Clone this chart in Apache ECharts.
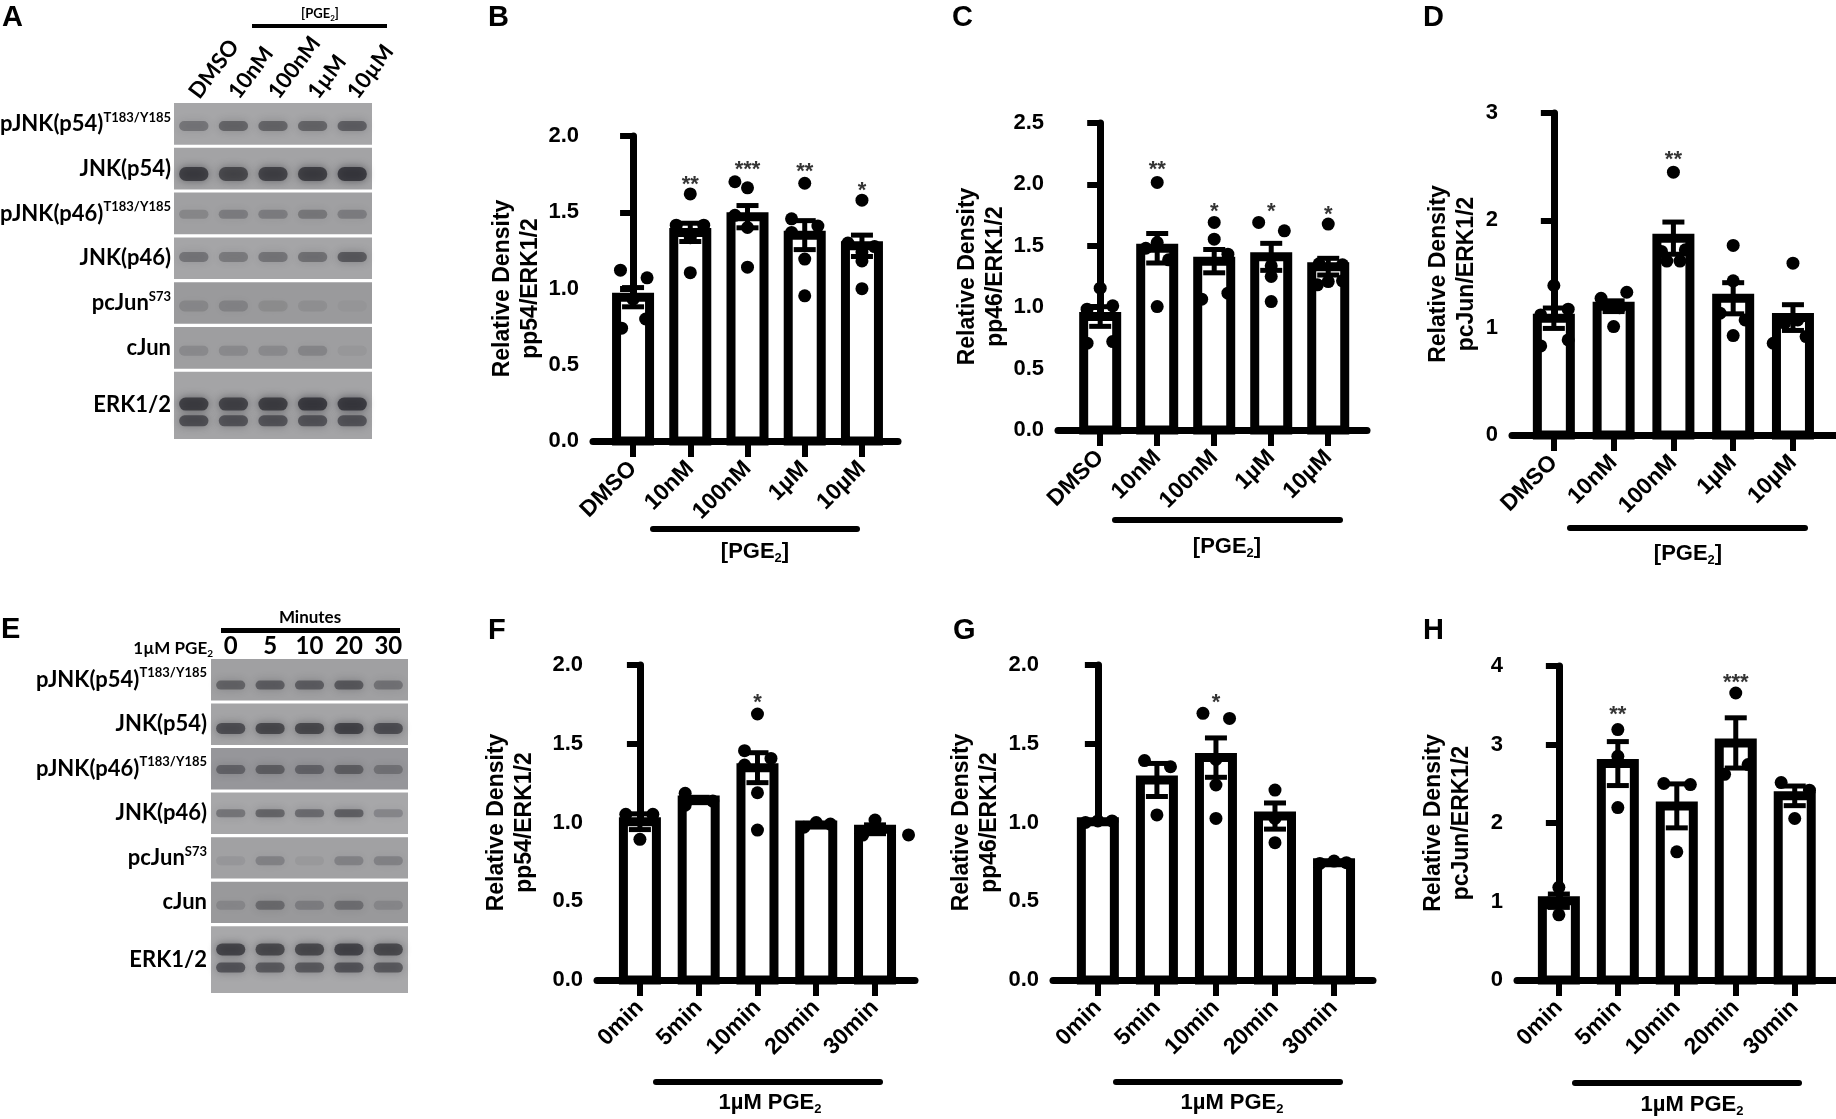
<!DOCTYPE html>
<html>
<head>
<meta charset="utf-8">
<script src="https://cdn.jsdelivr.net/npm/echarts@6/dist/echarts.min.js"></script>
<style>
  html, body { margin: 0; padding: 0; background: #fff; }
  #fig { width: 1836px; height: 1119px; }
</style>
</head>
<body>
<div id="fig"></div>
<script>
const doseCats = ['DMSO', '10nM', '100nM', '1µM', '10µM'];
const timeCats = ['0min', '5min', '10min', '20min', '30min'];

// B: pp54 / ERK1/2 vs PGE2 dose  (points are [x offset within group, value])
const pp54DoseMean = [0.943, 1.368, 1.471, 1.35, 1.28];
const pp54DoseSem = [0.063, 0.06, 0.073, 0.095, 0.07];
const pp54DosePoints = [
  [[-0.22, 1.12], [0.245, 1.07], [0, 0.93], [-0.2, 0.74], [0.22, 0.80]],
  [[0, 1.62], [-0.245, 1.415], [0.235, 1.415], [0, 1.333], [0, 1.104]],
  [[-0.22, 1.70], [0, 1.66], [-0.22, 1.48], [0, 1.40], [0, 1.14]],
  [[0, 1.69], [-0.23, 1.457], [0.23, 1.41], [-0.23, 1.368], [0, 1.193], [0, 0.952]],
  [[0, 1.579], [-0.245, 1.298], [0.22, 1.275], [0, 1.24], [0, 1.181], [0, 0.999]]
];
const pp54DoseStars = ['', '**', '***', '**', '*'];
const pp54DoseStarY = [null, 1.71, 1.81, 1.80, 1.67];

// C: pp46 / ERK1/2 vs dose
const pp46DoseMean = [0.924, 1.48, 1.375, 1.41, 1.33];
const pp46DoseSem = [0.08, 0.12, 0.095, 0.11, 0.068];
const pp46DosePoints = [
  [[0, 1.155], [-0.23, 0.984], [0.22, 1.011], [-0.23, 0.707], [0.22, 0.72]],
  [[0, 2.016], [0, 1.527], [-0.2, 1.48], [0.2, 1.386], [0, 1.005]],
  [[0, 1.69], [0, 1.554], [0.24, 1.432], [-0.22, 1.065], [0.24, 1.114]],
  [[-0.22, 1.69], [0.23, 1.622], [0, 1.337], [0, 1.25], [0, 1.046]],
  [[0, 1.677], [-0.16, 1.353], [0.25, 1.345], [-0.19, 1.182], [0, 1.209], [0.25, 1.215]]
];
const pp46DoseStars = ['', '**', '*', '*', '*'];
const pp46DoseStarY = [null, 2.16, 1.82, 1.82, 1.79];

// D: pcJun / ERK1/2 vs dose
const pcJunDoseMean = [1.088, 1.2, 1.834, 1.274, 1.094];
const pcJunDoseSem = [0.095, 0.05, 0.15, 0.145, 0.12];
const pcJunDosePoints = [
  [[0, 1.393], [0.24, 1.172], [-0.22, 1.119], [-0.22, 0.83], [0.24, 0.886]],
  [[0.22, 1.33], [-0.21, 1.274], [0.1, 1.186], [0, 1.01]],
  [[0, 2.449], [-0.2, 1.71], [0.2, 1.725], [-0.11, 1.62], [0.11, 1.62]],
  [[0, 1.766], [0, 1.436], [-0.22, 1.135], [0.2, 1.072], [0, 0.926]],
  [[0, 1.601], [0.08, 1.072], [-0.14, 1.041], [-0.33, 0.855], [0.22, 0.917]]
];
const pcJunDoseStars = ['', '', '**', '', ''];
const pcJunDoseStarY = [null, null, 2.61, null, null];

// F: pp54 / ERK1/2 vs time
const pp54TimeMean = [1.005, 1.143, 1.348, 0.984, 0.957];
const pp54TimeSem = [0.05, 0.017, 0.095, 0.01, 0.028];
const pp54TimePoints = [
  [[-0.24, 1.052], [0.22, 1.052], [0, 0.893]],
  [[-0.23, 1.185], [0.24, 1.136], [-0.23, 1.11]],
  [[0, 1.689], [-0.22, 1.456], [0.23, 1.407], [-0.22, 1.365], [0, 1.189], [0, 0.952]],
  [[-0.21, 0.97], [0, 1.0], [0.24, 0.99]],
  [[0, 1.016], [0.57, 0.921], [-0.21, 0.92]]
];
const pp54TimeStars = ['', '', '*', '', ''];
const pp54TimeStarY = [null, null, 1.79, null, null];

// G: pp46 / ERK1/2 vs time
const pp46TimeMean = [1.005, 1.27, 1.412, 1.041, 0.745];
const pp46TimeSem = [0.005, 0.105, 0.125, 0.083, 0.005];
const pp46TimePoints = [
  [[-0.21, 1.0], [0, 1.01], [0.24, 1.01]],
  [[-0.21, 1.393], [0.23, 1.354], [0, 1.048]],
  [[-0.22, 1.693], [0.23, 1.661], [0, 1.40], [0, 1.238], [0, 1.026]],
  [[0, 1.206], [0, 1.026], [0, 0.872]],
  [[-0.24, 0.74], [0, 0.755], [0.21, 0.745]]
];
const pp46TimeStars = ['', '', '*', '', ''];
const pp46TimeStarY = [null, null, 1.79, null, null];

// H: pcJun / ERK1/2 vs time
const pcJunTimeMean = [1.01, 2.757, 2.218, 3.02, 2.346];
const pcJunTimeSem = [0.085, 0.28, 0.28, 0.32, 0.125];
const pcJunTimePoints = [
  [[0, 1.18], [-0.17, 0.98], [0, 0.83]],
  [[0, 3.19], [0, 2.85], [0, 2.197]],
  [[-0.22, 2.503], [0.23, 2.49], [0, 1.633]],
  [[0, 3.656], [0.21, 2.744], [-0.19, 2.62]],
  [[-0.23, 2.515], [0.25, 2.418], [0, 2.057]]
];
const pcJunTimeStars = ['', '**', '', '***', ''];
const pcJunTimeStarY = [null, 3.44, null, 3.85, null];

// Western blots (band darkness 0..1 per lane)
const blotRowNames = ['pJNK(p54)', 'JNK(p54)', 'pJNK(p46)', 'JNK(p46)', 'pcJun', 'cJun', 'ERK1/2'];
const blotRowSup = ['T183/Y185', '', 'T183/Y185', '', 'S73', '', ''];
const blotALanes = ['DMSO', '10nM', '100nM', '1µM', '10µM'];
const blotABands = [
  [0.45, 0.6, 0.6, 0.6, 0.65],
  [0.95, 0.85, 0.9, 0.95, 1.0],
  [0.25, 0.35, 0.35, 0.4, 0.35],
  [0.45, 0.4, 0.45, 0.5, 0.7],
  [0.2, 0.25, 0.15, 0.12, 0.05],
  [0.2, 0.2, 0.2, 0.25, 0.08],
  [0.95, 0.9, 0.95, 1.0, 1.0]
];
const blotAErkLower = [0.8, 0.75, 0.75, 0.75, 0.75];
const blotELanes = ['0', '5', '10', '20', '30'];
const blotEBands = [
  [0.6, 0.65, 0.65, 0.7, 0.45],
  [0.8, 0.85, 0.85, 0.9, 0.8],
  [0.55, 0.6, 0.55, 0.6, 0.4],
  [0.45, 0.6, 0.55, 0.65, 0.3],
  [0.1, 0.3, 0.08, 0.3, 0.3],
  [0.2, 0.5, 0.3, 0.45, 0.2],
  [0.9, 0.85, 0.85, 0.9, 0.85]
];
const blotEErkLower = [0.75, 0.7, 0.7, 0.75, 0.7];

const ARIAL = 'Liberation Sans, Arial, sans-serif';
const BLOT_FONT = 'Lato, Open Sans, sans-serif';

const doseTag = '{r|[PGE}{s|2}{r|]}';
const timeTag = '{r|1µM PGE}{s|2}';

const panels = [
  {
    cats: doseCats, mean: pp54DoseMean, sem: pp54DoseSem, points: pp54DosePoints,
    stars: pp54DoseStars, starY: pp54DoseStarY, yMax: 2, yStep: 0.5, digits: 1,
    yName: 'Relative Density\npp54/ERK1/2', tag: doseTag,
    letter: 'B', lx: 488, ly: 18, grid: { left: 593, top: 136, width: 305, height: 305 },
    xMin: -0.70, xMax: 4.63, nameGap: 47, bar: [650, 860, 529], tagPos: [755, 552]
  },
  {
    cats: doseCats, mean: pp46DoseMean, sem: pp46DoseSem, points: pp46DosePoints,
    stars: pp46DoseStars, starY: pp46DoseStarY, yMax: 2.5, yStep: 0.5, digits: 1,
    yName: 'Relative Density\npp46/ERK1/2', tag: doseTag,
    letter: 'C', lx: 952, ly: 18, grid: { left: 1058, top: 123, width: 309, height: 307 },
    xMin: -0.74, xMax: 4.68, nameGap: 46, bar: [1112, 1343, 520], tagPos: [1227, 547]
  },
  {
    cats: doseCats, mean: pcJunDoseMean, sem: pcJunDoseSem, points: pcJunDosePoints,
    stars: pcJunDoseStars, starY: pcJunDoseStarY, yMax: 3, yStep: 1, digits: 0,
    yName: 'Relative Density\npcJun/ERK1/2', tag: doseTag,
    letter: 'D', lx: 1423, ly: 18, grid: { left: 1512, top: 113, width: 324, height: 322 },
    xMin: -0.70, xMax: 4.72, nameGap: 31, bar: [1567, 1808, 528], tagPos: [1688, 554]
  },
  {
    cats: timeCats, mean: pp54TimeMean, sem: pp54TimeSem, points: pp54TimePoints,
    stars: pp54TimeStars, starY: pp54TimeStarY, yMax: 2, yStep: 0.5, digits: 1,
    yName: 'Relative Density\npp54/ERK1/2', tag: timeTag,
    letter: 'F', lx: 488, ly: 631, grid: { left: 597, top: 665, width: 318, height: 315 },
    xMin: -0.73, xMax: 4.68, nameGap: 58, bar: [653, 883, 1082], tagPos: [770, 1103]
  },
  {
    cats: timeCats, mean: pp46TimeMean, sem: pp46TimeSem, points: pp46TimePoints,
    stars: pp46TimeStars, starY: pp46TimeStarY, yMax: 2, yStep: 0.5, digits: 1,
    yName: 'Relative Density\npp46/ERK1/2', tag: timeTag,
    letter: 'G', lx: 953, ly: 631, grid: { left: 1053, top: 665, width: 320, height: 315 },
    xMin: -0.76, xMax: 4.66, nameGap: 49, bar: [1113, 1343, 1082], tagPos: [1232, 1103]
  },
  {
    cats: timeCats, mean: pcJunTimeMean, sem: pcJunTimeSem, points: pcJunTimePoints,
    stars: pcJunTimeStars, starY: pcJunTimeStarY, yMax: 4, yStep: 1, digits: 0,
    yName: 'Relative Density\npcJun/ERK1/2', tag: timeTag,
    letter: 'H', lx: 1423, ly: 631, grid: { left: 1517, top: 666, width: 319, height: 314 },
    xMin: -0.71, xMax: 4.7, nameGap: 41, bar: [1572, 1802, 1083], tagPos: [1692, 1105]
  }
];

const blots = [
  {
    lanes: blotALanes, bands: blotABands, erkLower: blotAErkLower,
    grid: { left: 174, top: 103, width: 198, height: 336 },
    bandPos: [0.55, 0.63, 0.52, 0.47, 0.57, 0.57, 0.48], lowerPos: 0.73,
    bandH: [10, 14, 9, 10, 11, 10, 13], lowerH: 11,
    shade: ['#a6a6a8', '#a3a3a5', '#a0a0a2', '#a5a5a7', '#9a9a9c', '#9e9ea0', '#a4a4a6'],
    labelGap: 3, laneLabel: { rotate: 53, margin: 7, fontSize: 22 }
  },
  {
    lanes: blotELanes, bands: blotEBands, erkLower: blotEErkLower,
    grid: { left: 211, top: 659, width: 197, height: 334 },
    bandPos: [0.63, 0.6, 0.52, 0.5, 0.57, 0.57, 0.35], lowerPos: 0.62,
    bandH: [9, 11, 9, 8, 9, 9, 12], lowerH: 10,
    shade: ['#a0a0a2', '#a4a4a6', '#96969a', '#a7a7a9', '#a1a1a3', '#99999b', '#a8a8aa'],
    labelGap: 4, laneLabel: { rotate: 0, margin: 1, fontSize: 24 }
  }
];
const blotRowTop = [0, 1, 2, 3, 4, 5, 6];
const blotRowSpan = [0.93, 0.93, 0.93, 0.93, 0.93, 0.93, 1.5];

const grids = [];
const xAxes = [];
const yAxes = [];
const series = [];
const graphics = [];

const axisLineStyle = { color: '#000', width: 7 };
const tickStyle = { color: '#000', width: 6 };
const groupTicks = [0, 1, 2, 3, 4];
const BAR_OUTER = 42;
const BAR_BORDER = 9;

panels.forEach((p, i) => {
  grids.push(p.grid);
  xAxes.push({
    gridIndex: i, type: 'value', min: p.xMin, max: p.xMax,
    axisLine: { show: true, lineStyle: axisLineStyle },
    axisTick: { show: true, customValues: groupTicks, length: 16, lineStyle: tickStyle },
    axisLabel: {
      customValues: groupTicks, rotate: 45, margin: 24,
      formatter: (v) => p.cats[Math.round(v)],
      color: '#000', fontSize: 23, fontWeight: 'bold', fontFamily: ARIAL
    },
    splitLine: { show: false }
  });
  yAxes.push({
    gridIndex: i, type: 'value', min: 0, max: p.yMax, interval: p.yStep,
    axisLine: { show: true, lineStyle: axisLineStyle },
    axisTick: { show: true, length: 13, lineStyle: tickStyle },
    axisLabel: {
      margin: 14, color: '#000', fontSize: 22, fontWeight: 'bold', fontFamily: ARIAL,
      formatter: (v) => v.toFixed(p.digits)
    },
    splitLine: { show: false },
    name: p.yName, nameLocation: 'middle', nameRotate: 90, nameGap: p.nameGap,
    nameTextStyle: { color: '#000', fontSize: 23, fontWeight: 'bold', fontFamily: ARIAL, lineHeight: 28 }
  });

  // open bars with a heavy outline, centred on the mean
  series.push({
    type: 'custom', xAxisIndex: i, yAxisIndex: i, silent: true, z: 2,
    data: p.mean.map((m, k) => [k, m]),
    encode: { x: 0, y: 1 },
    renderItem: (params, api) => {
      const topPt = api.coord([api.value(0), api.value(1)]);
      const basePt = api.coord([api.value(0), 0]);
      const inner = BAR_OUTER - BAR_BORDER;
      return {
        type: 'rect',
        shape: { x: topPt[0] - inner / 2, y: topPt[1], width: inner, height: basePt[1] - topPt[1] },
        style: { fill: '#fff', stroke: '#000', lineWidth: BAR_BORDER }
      };
    }
  });
  series.push({
    type: 'custom', xAxisIndex: i, yAxisIndex: i, silent: true, z: 3,
    data: p.mean.map((m, k) => [k, m - p.sem[k], m + p.sem[k]]),
    encode: { x: 0, y: [1, 2] },
    renderItem: (params, api) => {
      const lo = api.coord([api.value(0), api.value(1)]);
      const hi = api.coord([api.value(0), api.value(2)]);
      const cap = 11;
      const st = { stroke: '#000', lineWidth: 5 };
      return {
        type: 'group',
        children: [
          { type: 'line', shape: { x1: lo[0], y1: lo[1], x2: hi[0], y2: hi[1] }, style: st },
          { type: 'line', shape: { x1: hi[0] - cap, y1: hi[1], x2: hi[0] + cap, y2: hi[1] }, style: st },
          { type: 'line', shape: { x1: lo[0] - cap, y1: lo[1], x2: lo[0] + cap, y2: lo[1] }, style: st }
        ]
      };
    }
  });
  series.push({
    type: 'scatter', xAxisIndex: i, yAxisIndex: i, silent: true, z: 4,
    symbolSize: 13, itemStyle: { color: '#000', opacity: 1 },
    data: p.points.flatMap((grp, k) => grp.map(([dx, v]) => [k + dx, v]))
  });
  series.push({
    type: 'scatter', xAxisIndex: i, yAxisIndex: i, silent: true, z: 5,
    symbolSize: 1, itemStyle: { color: 'rgba(0,0,0,0)' },
    data: p.stars.map((s, k) => [k, p.starY[k], s]).filter((d) => d[2]),
    label: {
      show: true, position: 'inside', offset: [0, 5],
      formatter: (d) => d.value[2],
      color: '#000', fontSize: 22, fontWeight: 'bold', fontFamily: ARIAL
    }
  });

  graphics.push({
    type: 'text', x: p.lx, y: p.ly,
    style: { text: p.letter, fill: '#000', fontSize: 29, fontWeight: 'bold', fontFamily: ARIAL, align: 'left', verticalAlign: 'middle' }
  });
  graphics.push({
    type: 'rect', shape: { x: p.bar[0], y: p.bar[2] - 3, width: p.bar[1] - p.bar[0], height: 6, r: 3 },
    style: { fill: '#000' }
  });
  graphics.push({
    type: 'text', x: p.tagPos[0], y: p.tagPos[1],
    style: {
      text: p.tag, align: 'center', verticalAlign: 'middle', fill: '#000',
      rich: {
        r: { fontSize: 22, fontWeight: 'bold', fontFamily: ARIAL, lineHeight: 26, verticalAlign: 'middle', fill: '#000' },
        s: { fontSize: 13, fontWeight: 'bold', fontFamily: ARIAL, lineHeight: 10, verticalAlign: 'bottom', fill: '#000' }
      }
    }
  });
});

blots.forEach((b, j) => {
  const gi = panels.length + j;
  grids.push(b.grid);
  xAxes.push({
    gridIndex: gi, type: 'category', position: 'top', data: b.lanes,
    axisLine: { show: false }, axisTick: { show: false }, splitLine: { show: false },
    axisLabel: {
      interval: 0, rotate: b.laneLabel.rotate, margin: b.laneLabel.margin,
      color: '#000', fontSize: b.laneLabel.fontSize, fontWeight: 'bold', fontFamily: BLOT_FONT
    }
  });
  yAxes.push({ gridIndex: gi, type: 'value', min: 0, max: 7.5, inverse: true, show: false });
  series.push({
    type: 'custom', xAxisIndex: gi, yAxisIndex: gi, silent: true, clip: false,
    data: blotRowNames.map((name, r) => [2, blotRowTop[r], r]),
    encode: { x: 0, y: 1 },
    renderItem: (params, api) => {
      const r = api.value(2);
      const laneW = api.size([1, 0])[0];
      const top = api.coord([0, blotRowTop[r]])[1];
      const bottom = api.coord([0, blotRowTop[r] + blotRowSpan[r]])[1];
      const left = api.coord([0, 0])[0] - laneW / 2;
      const right = api.coord([b.lanes.length - 1, 0])[0] + laneW / 2;
      const children = [{
        type: 'rect', shape: { x: left, y: top, width: right - left, height: bottom - top },
        style: { fill: b.shade[r] }
      }];
      const addBands = (vals, pos, h) => {
        vals.forEach((v, lane) => {
          const cx = api.coord([lane, 0])[0];
          const cy = top + (bottom - top) * pos;
          const w = laneW * 0.74;
          const col = `rgba(40,40,46,${(v * 0.78).toFixed(3)})`;
          children.push({
            type: 'rect', shape: { x: cx - w / 2, y: cy - h / 2, width: w, height: h, r: h / 2 },
            style: { fill: col, shadowBlur: 9, shadowColor: col }
          });
        });
      };
      addBands(b.bands[r], b.bandPos[r], b.bandH[r]);
      if (r === blotRowNames.length - 1) addBands(b.erkLower, b.lowerPos, b.lowerH);
      const sup = blotRowSup[r];
      children.push({
        type: 'text', x: left - b.labelGap, y: (top + bottom) / 2,
        style: {
          text: sup ? `{m|${blotRowNames[r]}}{s|${sup}}` : `{m|${blotRowNames[r]}}`,
          align: 'right', verticalAlign: 'middle', fill: '#000',
          rich: {
            m: { fontSize: 22, fontWeight: 'bold', fontFamily: BLOT_FONT, lineHeight: 26, verticalAlign: 'middle', fill: '#000' },
            s: { fontSize: 13, fontWeight: 'bold', fontFamily: BLOT_FONT, lineHeight: 14, verticalAlign: 'top', fill: '#000' }
          }
        }
      });
      return { type: 'group', children };
    }
  });
});

// blot headers and panel letters A / E
graphics.push(
  { type: 'text', x: 2, y: 18, style: { text: 'A', fill: '#000', fontSize: 29, fontWeight: 'bold', fontFamily: ARIAL, align: 'left', verticalAlign: 'middle' } },
  { type: 'text', x: 1, y: 630, style: { text: 'E', fill: '#000', fontSize: 29, fontWeight: 'bold', fontFamily: ARIAL, align: 'left', verticalAlign: 'middle' } },
  { type: 'rect', shape: { x: 252, y: 24, width: 135, height: 4 }, style: { fill: '#000' } },
  {
    type: 'text', x: 320, y: 14,
    style: {
      text: '{r|[PGE}{s|2}{r|]}', align: 'center', verticalAlign: 'middle', fill: '#000',
      rich: {
        r: { fontSize: 13, fontWeight: 'bold', fontFamily: BLOT_FONT, lineHeight: 16, verticalAlign: 'middle', fill: '#000' },
        s: { fontSize: 8, fontWeight: 'bold', fontFamily: BLOT_FONT, lineHeight: 7, verticalAlign: 'bottom', fill: '#000' }
      }
    }
  },
  { type: 'rect', shape: { x: 221, y: 628, width: 179, height: 5 }, style: { fill: '#000' } },
  {
    type: 'text', x: 310, y: 618,
    style: { text: 'Minutes', align: 'center', verticalAlign: 'middle', fill: '#000', fontSize: 17, fontWeight: 'bold', fontFamily: BLOT_FONT }
  },
  {
    type: 'text', x: 213, y: 649,
    style: {
      text: '{r|1µM PGE}{s|2}', align: 'right', verticalAlign: 'middle', fill: '#000',
      rich: {
        r: { fontSize: 17, fontWeight: 'bold', fontFamily: BLOT_FONT, lineHeight: 20, verticalAlign: 'middle', fill: '#000' },
        s: { fontSize: 10, fontWeight: 'bold', fontFamily: BLOT_FONT, lineHeight: 8, verticalAlign: 'bottom', fill: '#000' }
      }
    }
  }
);

const chart = echarts.init(document.getElementById('fig'));
chart.setOption({
  animation: false,
  backgroundColor: '#fff',
  grid: grids,
  xAxis: xAxes,
  yAxis: yAxes,
  series,
  graphic: { elements: graphics }
});
</script>
</body>
</html>
